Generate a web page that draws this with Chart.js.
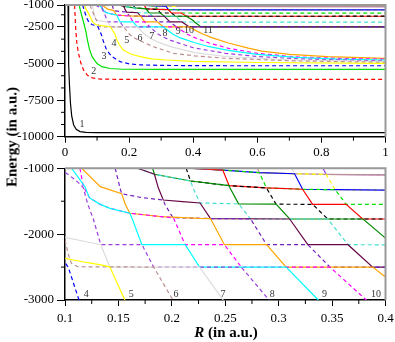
<!DOCTYPE html>
<html>
<head>
<meta charset="utf-8">
<script src="https://cdn.jsdelivr.net/npm/chart.js@4.4.0/dist/chart.umd.min.js"></script>
<style>
    body { margin: 0; background: #fff; width: 395px; height: 342px; overflow: hidden; position: relative; font-family: "Liberation Serif", serif; }
    canvas { position: absolute; left: 0; }
    #chartTop { top: 0; }
    #chartBot { top: 160px; }
    .titulo { position: absolute; font-weight: bold; font-size: 15px; white-space: nowrap; color: #000; }
    #yTitle { left: 12px; top: 137px; transform: translate(-50%, -50%) rotate(-90deg); }
    #xTitle { left: 226px; top: 332px; transform: translate(-50%, -50%); }
</style>
</head>
<body>
<canvas id="chartTop" width="395" height="160"></canvas>
<canvas id="chartBot" width="395" height="182"></canvas>
<div class="titulo" id="yTitle">Energy (in a.u.)</div>
<div class="titulo" id="xTitle"><i>R</i> (in a.u.)</div>
<script>
// curves: [R, E] pairs (curve n = n-th lowest)
const c1 = [[0.0095,-1000],[0.0105,-3000],[0.012,-5000],[0.014,-6500],[0.017,-7700],[0.021,-8600],[0.027,-9200],[0.035,-9500],[0.047,-9650],[0.065,-9710],[0.1,-9725],[1,-9725]];
const c2 = [[0.030,-1000],[0.033,-2500],[0.037,-3600],[0.042,-4300],[0.05,-5000],[0.058,-5450],[0.07,-5800],[0.085,-5980],[0.11,-6060],[0.16,-6080],[1,-6080]];
const c3 = [[0.044,-1000],[0.052,-1700],[0.060,-2350],[0.066,-2900],[0.070,-3400],[0.076,-4000],[0.085,-4550],[0.1,-5000],[0.115,-5217],[0.14,-5340],[0.18,-5390],[0.3,-5400],[1,-5400]];
const c4 = [[0.055,-1000],[0.062,-1500],[0.068,-1900],[0.075,-2200],[0.085,-2350],[0.095,-2400],[0.1,-2430],[0.103,-2500],[0.1131,-3000],[0.12,-3500],[0.13,-4075],[0.145,-4500],[0.172,-4875],[0.2,-5020],[0.234,-5090],[0.3,-5130],[0.5,-5150],[1,-5150]];
const c5 = [[0.06,-1000],[0.066,-1300],[0.073,-1567],[0.085,-2100],[0.092,-2280],[0.1,-2367],[0.12,-2430],[0.135,-2470],[0.142,-2500],[0.156,-3000],[0.163,-3450],[0.172,-3800],[0.182,-4076],[0.205,-4350],[0.234,-4533],[0.27,-4680],[0.317,-4760],[0.4,-4850],[0.6,-4930],[1,-4985]];
const c6 = [[0.078,-1000],[0.085,-1400],[0.092,-1750],[0.0968,-2000],[0.1,-2090],[0.103,-2300],[0.106,-2443],[0.112,-2495],[0.183,-2500],[0.201,-3000],[0.212,-3200],[0.234,-3450],[0.276,-3850],[0.338,-4300],[0.405,-4480],[0.5,-4640],[0.7,-4810],[1,-4920]];
const c7 = [[0.085,-1000],[0.09,-1500],[0.095,-1900],[0.1,-2050],[0.12,-2115],[0.1335,-2160],[0.142,-2500],[0.226,-2500],[0.248,-3000],[0.27,-3320],[0.3,-3620],[0.338,-3900],[0.405,-4250],[0.5,-4520],[0.7,-4740],[1,-4870]];
const c8 = [[0.095,-1000],[0.1,-1060],[0.11,-1180],[0.117,-1290],[0.1214,-1550],[0.1265,-1770],[0.1335,-2160],[0.172,-2160],[0.183,-2500],[0.265,-2500],[0.291,-3000],[0.31,-3220],[0.33,-3420],[0.4,-3920],[0.5,-4300],[0.6,-4520],[0.75,-4700],[1,-4820]];
const c9 = [[0.1063,-1000],[0.1187,-1279],[0.1228,-1446],[0.132,-1540],[0.1421,-1608],[0.1607,-1683],[0.163,-1770],[0.172,-2160],[0.2125,-2160],[0.226,-2500],[0.307,-2500],[0.337,-3000],[0.36,-3250],[0.405,-3580],[0.45,-3850],[0.51,-4100],[0.6,-4380],[0.72,-4580],[0.85,-4700],[1,-4760]];
const c10 = [[0.114,-1000],[0.117,-1270],[0.1228,-1446],[0.132,-1540],[0.1421,-1608],[0.1607,-1683],[0.19,-1735],[0.2015,-1752],[0.2125,-2160],[0.2492,-2160],[0.265,-2500],[0.348,-2500],[0.382,-3000],[0.405,-3230],[0.45,-3600],[0.51,-3960],[0.6,-4300],[0.72,-4550],[0.85,-4650],[1,-4700]];
const c11 = [[0.1156,-1000],[0.133,-1279],[0.153,-1385],[0.1565,-1550],[0.1607,-1683],[0.19,-1735],[0.226,-1760],[0.2362,-1763],[0.2492,-2160],[0.2887,-2160],[0.307,-2500],[0.388,-2500],[0.4,-2650],[0.426,-2950],[0.46,-3250],[0.51,-3600],[0.572,-3950],[0.614,-4150],[0.7,-4380],[0.82,-4530],[1,-4645]];
const c12 = [[0.147,-1000],[0.1515,-1300],[0.153,-1385],[0.17,-1440],[0.192,-1482],[0.1936,-1550],[0.201,-1750],[0.2362,-1763],[0.2737,-1768],[0.2887,-2160],[0.3273,-2160],[0.348,-2500],[1,-2495]];
const c13 = [[0.168,-1000],[0.1837,-1090],[0.1874,-1300],[0.192,-1482],[0.21,-1507],[0.2264,-1527],[0.2362,-1763],[0.3103,-1770],[0.3273,-2160],[0.3649,-2160],[0.388,-2500],[1,-2490]];
const c14 = [[0.168,-1000],[0.1837,-1090],[0.2,-1140],[0.2175,-1193],[0.2199,-1300],[0.2264,-1527],[0.2625,-1540],[0.2737,-1770],[0.3459,-1770],[0.3649,-2160],[0.45,-2165],[1,-2170]];
const c15 = [[0.182,-1000],[0.1837,-1090],[0.2,-1140],[0.2175,-1193],[0.2536,-1263],[0.2545,-1300],[0.2625,-1540],[0.2976,-1545],[0.3103,-1770],[0.379,-1770],[0.4,-2060],[0.404,-2160],[0.425,-2500],[1,-2500]];
const c16 = [[0.2134,-1000],[0.2175,-1193],[0.2536,-1263],[0.2885,-1298],[0.2976,-1545],[0.3318,-1547],[0.3459,-1770],[0.6,-1770],[1,-1765]];
const c17 = [[0.22,-1000],[0.2477,-1027],[0.2536,-1263],[0.2885,-1298],[0.3224,-1318],[0.3318,-1547],[0.3632,-1548],[0.3786,-1770],[1,-1770]];
const c18 = [[0.22,-1000],[0.2477,-1027],[0.282,-1067],[0.2885,-1298],[0.3224,-1318],[0.3529,-1325],[0.3632,-1548],[1,-1555]];
const c19 = [[0.22,-1000],[0.2477,-1027],[0.282,-1067],[0.3149,-1083],[0.3224,-1318],[0.3529,-1325],[0.4,-1330],[1,-1335]];
const c20 = [[0.247,-1000],[0.2477,-1027],[0.282,-1067],[0.3149,-1083],[0.3445,-1092],[0.3529,-1325],[0.4,-1330],[1,-1335]];
const c21 = [[0.2801,-1000],[0.282,-1067],[0.3149,-1083],[0.3445,-1092],[0.4,-1100],[1,-1110]];
const c22 = [[0.3123,-1000],[0.3149,-1083],[0.3445,-1092],[0.4,-1100],[1,-1110]];
const c23 = [[0.3414,-1000],[0.3445,-1092],[0.4,-1100],[1,-1110]];
const c24 = [[0.42,-1000],[0.6,-1060],[1,-1075]];
const c25 = [[0.47,-1000],[0.7,-1035],[1,-1045]];
const c26 = [[0.58,-1000],[0.8,-1015],[1,-1022]];

const curves = [c1, c2, c3, c4, c5, c6, c7, c8, c9, c10, c11, c12, c13, c14, c15,
                c16, c17, c18, c19, c20, c21, c22, c23, c24, c25, c26];
// grace-like colour cycle, even curves dashed
const palette = ['#000000', '#ff0000', '#00e000', '#0000ff', '#ffff00', '#bc8f8f', '#dcdcdc', '#9a3ee0',
                 '#00ffff', '#ff00ff', '#ffa500', '#7221bc', '#670748', '#40e0d0', '#008b00'];
const curveColors = curves.map((c, i) => palette[i % palette.length]);
const curveDashed = curves.map((c, i) => (i + 1) % 2 === 0);

// axes
const topXTicks = [0, 0.2, 0.4, 0.6, 0.8, 1];
const topXMinor = [0.1, 0.3, 0.5, 0.7, 0.9];
const topYTicks = [-10000, -7500, -5000, -2500, -1000];
const topYMinor = [-9166.7, -8333.3, -6666.7, -5833.3, -4166.7, -3333.3, -1666.7];
const botXTicks = [0.1, 0.15, 0.2, 0.25, 0.3, 0.35, 0.4];
const botXMinor = [0.125, 0.175, 0.225, 0.275, 0.325, 0.375];
const botYTicks = [-3000, -2000, -1000];
const botYMinor = [-2500, -1500];

// curve numbers
const topLabels = ['1', '2', '3', '4', '5', '6', '7', '8', '9', '10', '11'];
const topLabelR = [0.053, 0.090, 0.122, 0.153, 0.193, 0.234, 0.271, 0.312, 0.353, 0.387, 0.446];
const topLabelE = [-9134, -5510, -4485, -3596, -3390, -3254, -3117, -2912, -2775, -2707, -2707];
const botLabels = ['4', '5', '6', '7', '8', '9', '10'];
const botLabelR = [0.120, 0.162, 0.204, 0.248, 0.294, 0.343, 0.391];
const botLabelE = [-2907, -2922, -2907, -2907, -2907, -2907, -2907];

const fonte = { family: '"Liberation Serif", "Times New Roman", serif', size: 13 };

function montarDatasets() {
    return curves.map((pts, i) => ({
        data: pts.map(p => ({ x: p[0], y: p[1] })),
        showLine: true,
        borderColor: curveColors[i],
        borderWidth: 1.2,
        borderDash: curveDashed[i] ? [4, 3] : [],
        pointRadius: 0,
        tension: 0,
        fill: false
    }));
}

// short ticks + grey frame + curve numbers
const extras = {
    id: 'extras',
    afterDraw(chart, args, opts) {
        const ctx = chart.ctx;
        const a = chart.chartArea;
        const sx = chart.scales.x, sy = chart.scales.y;
        ctx.save();
        ctx.strokeStyle = '#999';
        ctx.lineWidth = 2;
        ctx.beginPath();
        ctx.moveTo(a.left, a.top);
        ctx.lineTo(a.right, a.top);
        ctx.lineTo(a.right, a.bottom);
        ctx.stroke();
        ctx.strokeStyle = '#000';
        ctx.lineWidth = 1;
        ctx.beginPath();
        opts.xMinor.forEach(v => {
            const px = sx.getPixelForValue(v);
            ctx.moveTo(px, a.bottom);
            ctx.lineTo(px, a.bottom + 4);
        });
        opts.yMinor.forEach(v => {
            const py = sy.getPixelForValue(v);
            ctx.moveTo(a.left - 4, py);
            ctx.lineTo(a.left, py);
        });
        ctx.stroke();
        ctx.fillStyle = '#333';
        ctx.font = '10px "Liberation Serif", serif';
        ctx.textAlign = 'center';
        ctx.textBaseline = 'middle';
        opts.labels.forEach((t, i) => {
            ctx.fillText(t, sx.getPixelForValue(opts.labelR[i]), sy.getPixelForValue(opts.labelE[i]));
        });
        ctx.restore();
    }
};

function criarGrafico(id, cfg) {
    const ctx = document.getElementById(id);
    new Chart(ctx.getContext('2d'), {
        type: 'scatter',
        data: { datasets: montarDatasets() },
        plugins: [extras],
        options: {
            responsive: false,
            animation: false,
            layout: { padding: cfg.padding },
            plugins: {
                legend: { display: false },
                tooltip: { enabled: false },
                extras: { xMinor: cfg.xMinor, yMinor: cfg.yMinor, labels: cfg.labels, labelR: cfg.labelR, labelE: cfg.labelE }
            },
            scales: {
                x: {
                    type: 'linear', min: cfg.xMin, max: cfg.xMax,
                    afterBuildTicks: s => { s.ticks = cfg.xTicks.map(v => ({ value: v })); },
                    afterFit: s => { s.height = cfg.xHeight; s.paddingLeft = 0; s.paddingRight = 0; },
                    ticks: { font: fonte, color: '#000', padding: cfg.xPad, maxRotation: 0, autoSkip: false,
                             callback: v => String(Math.round(v * 1000) / 1000) },
                    grid: { drawOnChartArea: false, tickLength: 6, color: '#000', tickWidth: 1 },
                    border: { color: '#000', width: 1.5 }
                },
                y: {
                    type: 'linear', min: cfg.yMin, max: cfg.yMax,
                    afterBuildTicks: s => { s.ticks = cfg.yTicks.map(v => ({ value: v })); },
                    afterFit: s => { s.width = 65; s.paddingTop = 0; s.paddingBottom = 0; },
                    ticks: { font: fonte, color: '#000', padding: 3, autoSkip: false,
                             callback: v => String(v) },
                    grid: { drawOnChartArea: false, tickLength: 8, color: '#000', tickWidth: 1 },
                    border: { color: '#000', width: 1.5 }
                }
            }
        }
    });
}

criarGrafico('chartTop', {
    padding: { left: 0, right: 9.5, top: 5, bottom: 0 },
    xMin: 0, xMax: 1, yMin: -10000, yMax: -1000, xHeight: 23.3, xPad: 2,
    xTicks: topXTicks, yTicks: topYTicks, xMinor: topXMinor, yMinor: topYMinor,
    labels: topLabels, labelR: topLabelR, labelE: topLabelE
});

criarGrafico('chartBot', {
    padding: { left: 0, right: 9.5, top: 8.3, bottom: 0 },
    xMin: 0.1, xMax: 0.4, yMin: -3000, yMax: -1000, xHeight: 42, xPad: 5,
    xTicks: botXTicks, yTicks: botYTicks, xMinor: botXMinor, yMinor: botYMinor,
    labels: botLabels, labelR: botLabelR, labelE: botLabelE
});
</script>
</body>
</html>
